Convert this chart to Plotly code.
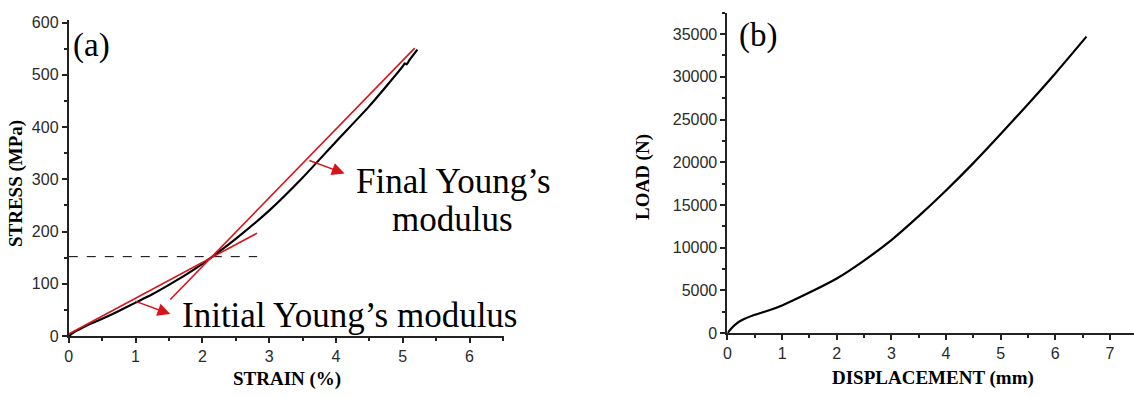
import plotly.graph_objects as go

# (a) stress-strain curve
strain = [0, 0.1, 0.25, 0.5, 0.75, 1.0, 1.25, 1.5, 1.75, 2.0, 2.15, 2.5, 3.0, 3.5,
          4.0, 4.5, 5.0, 5.03, 5.06, 5.1, 5.22]
stress = [0, 9, 19, 33, 48, 64, 80, 98, 117, 138, 152, 186, 240, 303,
          372, 440, 516, 522, 520, 528, 548]

# tangent lines for the two moduli
initial_x = [0.0, 2.82]
initial_y = [4, 197]
final_x = [1.52, 5.18]
final_y = [70, 551]
crossing_x = [0.0, 2.82]
crossing_y = [152, 152]

# (b) load-displacement curve
displacement = [0, 0.07, 0.16, 0.25, 0.5, 0.75, 1.0, 1.5, 2.0, 2.5, 3.0, 3.5, 4.0,
                4.5, 5.0, 5.5, 6.0, 6.57]
load = [0, 560, 1100, 1480, 2150, 2650, 3250, 4750, 6400, 8500, 10900, 13700, 16700,
        19900, 23300, 26800, 30400, 34700]

RED = "#d7141c"
AX = "#222222"
W, H = 1134, 398

fig = go.Figure()
fig.add_trace(go.Scatter(x=crossing_x, y=crossing_y, mode="lines",
                         line=dict(color="black", width=1, dash="dash"),
                         xaxis="x", yaxis="y"))
fig.add_trace(go.Scatter(x=strain, y=stress, mode="lines",
                         line=dict(color="black", width=2.2, shape="spline",
                                   smoothing=0.6),
                         xaxis="x", yaxis="y"))
fig.add_trace(go.Scatter(x=initial_x, y=initial_y, mode="lines",
                         line=dict(color=RED, width=1.6), xaxis="x", yaxis="y"))
fig.add_trace(go.Scatter(x=final_x, y=final_y, mode="lines",
                         line=dict(color=RED, width=1.6), xaxis="x", yaxis="y"))
fig.add_trace(go.Scatter(x=displacement, y=load, mode="lines",
                         line=dict(color="black", width=2.2, shape="spline",
                                   smoothing=0.8),
                         xaxis="x2", yaxis="y2"))

tickfont = dict(family="Liberation Sans, Arial", size=16, color="#2a2a2a")
common = dict(showline=True, linecolor=AX, linewidth=2, ticks="outside",
              ticklen=5, tickwidth=1.5, tickcolor=AX, showgrid=False,
              zeroline=False, tickfont=tickfont, fixedrange=True)


def px_x(p):
    return p / W


def px_y(p):
    return (H - p) / H


fig.update_layout(
    width=W, height=H, margin=dict(l=0, r=0, t=0, b=0),
    paper_bgcolor="white", plot_bgcolor="white", showlegend=False,
    xaxis=dict(domain=[px_x(65), px_x(502)], range=[0, 6.52], dtick=1,
               minor=dict(dtick=0.5, ticklen=3, tickcolor=AX, ticks="outside"),
               anchor="y", **common),
    yaxis=dict(domain=[px_y(343), px_y(15)], range=[0, 604], dtick=100,
               minor=dict(dtick=50, ticklen=3, tickcolor=AX, ticks="outside"),
               anchor="x", **common),
    xaxis2=dict(domain=[px_x(726), 1.0], range=[0, 7.44], dtick=1,
                minor=dict(dtick=0.5, ticklen=3, tickcolor=AX, ticks="outside"),
                anchor="y2", **common),
    yaxis2=dict(domain=[px_y(340), px_y(7)], range=[0, 37500], dtick=5000,
                tickformat="d",
                minor=dict(dtick=2500, ticklen=3, tickcolor=AX, ticks="outside"),
                anchor="x2", **common),
)

serif = "Liberation Serif, Times New Roman"
labels = [
    # panel letters
    dict(text="(a)", x=px_x(88), y=px_y(41), size=33, bold=False),
    dict(text="(b)", x=px_x(757), y=px_y(31), size=33, bold=False),
    # annotation texts
    dict(text="Final Young’s", x=px_x(451), y=px_y(182), size=35, bold=False),
    dict(text="modulus", x=px_x(450), y=px_y(222), size=35, bold=False),
    dict(text="Initial Young’s modulus", x=px_x(347), y=px_y(322), size=35, bold=False),
    # axis titles
    dict(text="STRAIN (%)", x=px_x(284), y=px_y(388), size=19, bold=True),
    dict(text="DISPLACEMENT (mm)", x=px_x(932), y=px_y(387), size=19, bold=True),
]
for lb in labels:
    txt = f"<b>{lb['text']}</b>" if lb["bold"] else lb["text"]
    fig.add_annotation(text=txt, x=lb["x"], y=lb["y"], xref="paper", yref="paper",
                       showarrow=False, xanchor="center", yanchor="middle",
                       font=dict(family=serif, size=lb["size"], color="black"))

for txt, xc, yc in [("STRESS (MPa)", 12, 184), ("LOAD (N)", 642, 178)]:
    fig.add_annotation(text=f"<b>{txt}</b>", x=px_x(xc), y=px_y(yc), xref="paper",
                       yref="paper", showarrow=False, textangle=-90,
                       xanchor="center", yanchor="middle",
                       font=dict(family=serif, size=19, color="black"))

# red arrows pointing from the tangent lines to their labels
for (tx, ty), (hx, hy) in [((0.97, 68), (1.52, 42)), ((3.58, 337), (4.13, 311))]:
    fig.add_annotation(x=hx, y=hy, ax=tx, ay=ty, xref="x", yref="y", axref="x",
                       ayref="y", text="", showarrow=True, arrowhead=2,
                       arrowsize=1.7, arrowwidth=1.5, arrowcolor=RED, standoff=0)

fig.write_html("out.html")
